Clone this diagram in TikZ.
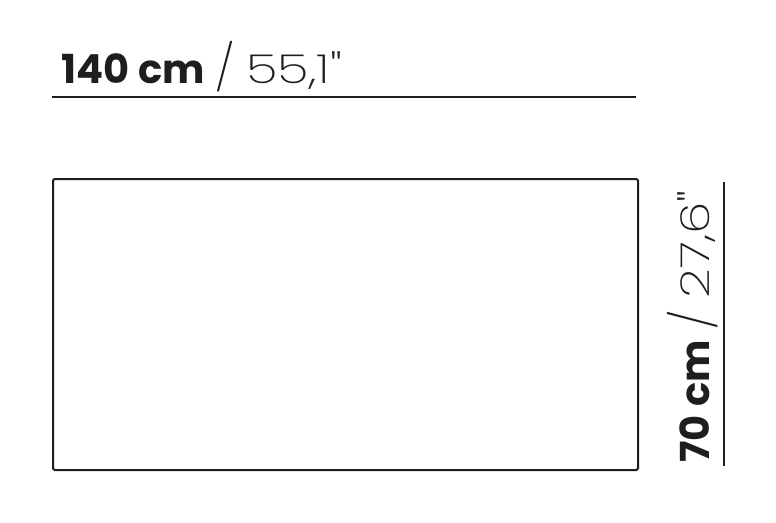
\documentclass[tikz,border=0pt]{standalone}
\usepackage{fontspec}
\usepackage{graphicx}
\setmainfont{Poppins}
\newfontfamily\boldf{Poppins}[UprightFont=* Bold]
\newfontfamily\lightf{Poppins}[UprightFont=* ExtraLight,FakeStretch=1.3]
\newfontfamily\slashf{Poppins}[UprightFont=* ExtraLight]
\newcommand{\dimslash}{\raisebox{-0.04em}{\scalebox{1.2}[1.15]{\slashf /}}}
\definecolor{ink}{HTML}{1E1E1E}
\begin{document}
\begin{tikzpicture}[x=1pt,y=-1pt,
  dimline/.style={draw=ink,line width=2pt},
  dimtext/.style={inner sep=0pt,font=\fontsize{40}{40}\selectfont,text=ink}]
\useasboundingbox (0,0) rectangle (776,522);
\node[draw=ink,line width=2pt,rounded corners=1.5pt,minimum width=585pt,minimum height=291pt,anchor=north west,inner sep=0pt] (table) at (52,178) {};
\coordinate (tl) at (52,97);
\coordinate (tr) at (636,97);
\draw[dimline] (tl) -- (tr);
\coordinate (rt) at (724,182);
\coordinate (rb) at (724,466);
\draw[dimline] (rt) -- (rb);
\node[dimtext,anchor=base west] (wlabel) at (61,83) {{\boldf 140\hspace{0.22em}cm}\hspace{0.26em}\dimslash\hspace{0.3em}{\lightf 55,1"}};
\node[dimtext,anchor=base west,rotate=90] (hlabel) at (709,463) {{\boldf 70\hspace{0.22em}cm}\hspace{0.26em}\dimslash\hspace{0.3em}{\lightf 27,6"}};
\end{tikzpicture}
\end{document}
